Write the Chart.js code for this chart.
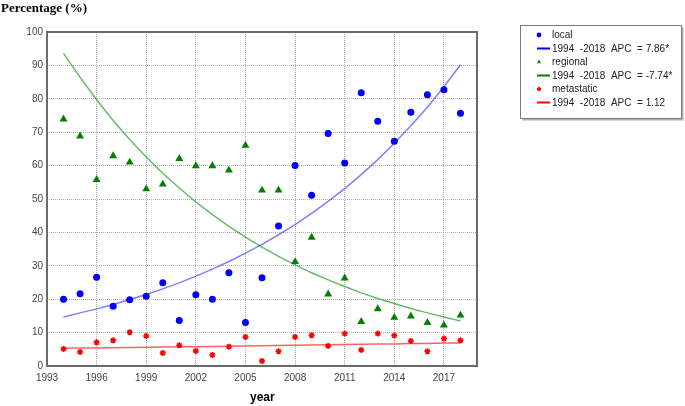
<!DOCTYPE html>
<html><head><meta charset="utf-8">
<script src="https://cdn.jsdelivr.net/npm/chart.js@4/dist/chart.umd.min.js"></script>
<style>
html,body{margin:0;padding:0;background:#fff;}
#wrap{position:relative;width:685px;height:406px;}
#yTitle{position:absolute;left:1px;top:0px;font:bold 13px "Liberation Serif",serif;color:#000;white-space:nowrap;}
#xTitle{position:absolute;left:250px;top:390px;font:bold 12px "Liberation Sans",sans-serif;color:#000;}
</style></head><body>
<div id="wrap"><canvas id="c" width="685" height="406"></canvas>
<div id="yTitle">Percentage (%)</div><div id="xTitle">year</div></div>
<script>
// ---------- data ----------
const years = [1994,1995,1996,1997,1998,1999,2000,2001,2002,2003,2004,2005,2006,2007,2008,2009,2010,2011,2012,2013,2014,2015,2016,2017,2018];
const localPct      = [20.0,21.6,26.6,17.9,19.8,20.9,24.9,13.6,21.3,20.0,27.9,13.0,26.4,41.9,60.0,51.1,69.6,60.8,81.8,73.3,67.3,76.0,81.2,82.7,75.7];
const localFit      = [14.7,15.9,17.1,18.4,19.9,21.4,23.1,24.9,26.9,29.0,31.3,33.8,36.4,39.3,42.3,45.7,49.3,53.1,57.3,61.8,66.7,71.9,77.5,83.6,90.2];
const regionalPct   = [73.9,68.8,55.8,62.9,61.0,53.0,54.4,62.1,59.9,59.9,58.6,66.0,52.6,52.6,31.2,38.5,21.5,26.3,13.3,17.1,14.5,14.9,13.0,12.2,15.2];
const regionalFit   = [93.6,86.4,79.7,73.5,67.8,62.6,57.7,53.3,49.1,45.3,41.8,38.6,35.6,32.8,30.3,27.9,25.8,23.8,21.9,20.2,18.7,17.2,15.9,14.7,13.5];
const metastaticPct = [5.1,4.2,7.1,7.7,10.1,9.0,3.9,6.2,4.5,3.3,5.8,8.7,1.5,4.4,8.7,9.2,6.0,9.7,4.8,9.7,9.1,7.5,4.4,8.2,7.7];
const metastaticFit = [5.30,5.36,5.42,5.48,5.54,5.60,5.67,5.73,5.79,5.86,5.92,5.99,6.06,6.12,6.19,6.26,6.33,6.40,6.48,6.55,6.62,6.70,6.77,6.85,6.92];
const seriesNames = ['local','regional','metastatic'];
const fitLabels   = ['1994  -2018  APC  = 7.86*','1994  -2018  APC  = -7.74*','1994  -2018  APC  = 1.12'];
const xTicks = [1993,1996,1999,2002,2005,2008,2011,2014,2017];
const yTicks = [0,10,20,30,40,50,60,70,80,90,100];

const pts = arr => years.map((yr,i)=>({x:yr,y:arr[i]}));

function pointSet(label, arr, style, color, r){
  return {label, data:pts(arr), showLine:false, pointStyle:style, pointRadius:r, pointHoverRadius:r,
    backgroundColor:color, borderColor:color, pointBorderWidth: style==='star'?1.5:0, legendColor:color, order:1};
}
function fitSet(label, arr, color, legendColor){
  return {label, data:pts(arr), showLine:true, pointRadius:0, pointHoverRadius:0, borderColor:color,
    backgroundColor:color, borderWidth:1.5, tension:0, fill:false, legendColor, isFit:true, order:2};
}

const datasets = [
  pointSet(seriesNames[0], localPct, 'circle', '#0000ff', 3.5),
  fitSet(fitLabels[0], localFit, 'rgba(40,40,255,0.6)', '#0000ff'),
  pointSet(seriesNames[1], regionalPct, 'triangle', '#008000', 4.6),
  fitSet(fitLabels[1], regionalFit, 'rgba(0,140,0,0.6)', '#008000'),
  pointSet(seriesNames[2], metastaticPct, 'star', '#ff0000', 3),
  fitSet(fitLabels[2], metastaticFit, 'rgba(255,30,30,0.7)', '#ff0000'),
];

const framePlugin = {
  id:'frameLegend',
  beforeDatasetsDraw(chart){
    const {ctx, chartArea:a} = chart;
    ctx.save();
    ctx.strokeStyle = '#6a6a6a'; ctx.lineWidth = 2;
    ctx.strokeRect(a.left, a.top, a.right-a.left, a.bottom-a.top);
    ctx.restore();
  },
  afterDraw(chart){
    const ctx = chart.ctx;
    ctx.save();
    const bx = 520.5, by = 25.5, bw = 161, bh = 93;
    ctx.fillStyle = '#b0b0b0';
    ctx.fillRect(bx+2, by+2, bw, bh);
    ctx.fillStyle = '#fff';
    ctx.fillRect(bx, by, bw, bh);
    ctx.strokeStyle = '#7a7a7a'; ctx.lineWidth = 1;
    ctx.strokeRect(bx, by, bw, bh);
    ctx.font = '10px "Liberation Sans", Arial, sans-serif';
    ctx.textBaseline = 'middle';
    chart.data.datasets.forEach((ds, i) => {
      const y = 35 + i*13.5;
      if (ds.isFit){
        ctx.strokeStyle = ds.legendColor; ctx.lineWidth = 2;
        ctx.beginPath(); ctx.moveTo(537, y); ctx.lineTo(550, y); ctx.stroke();
      } else {
        ctx.fillStyle = ds.legendColor; ctx.strokeStyle = ds.legendColor;
        Chart.helpers.drawPoint(ctx, {pointStyle: ds.pointStyle, radius: ds.pointStyle==='star'?2:2.4,
          borderWidth: ds.pointStyle==='star'?1.2:0, rotation:0}, 539, y);
      }
      ctx.fillStyle = '#222';
      ctx.fillText(ds.label, 552, y+0.5);
    });
    ctx.restore();
  }
};

new Chart(document.getElementById('c'), {
  type:'scatter',
  data:{datasets},
  options:{
    responsive:false, animation:false, devicePixelRatio:1,
    layout:{padding:{left:0, top:32, right:208, bottom:0}},
    plugins:{legend:{display:false}, tooltip:{enabled:false}},
    scales:{
      x:{type:'linear', min:1993, max:2019,
        afterBuildTicks: s => { s.ticks = xTicks.map(v=>({value:v})); },
        afterFit: s => { s.height = 40; },
        ticks:{callback:v=>String(v), color:'#444', font:{family:'"Liberation Sans", Arial, sans-serif', size:10}, padding:6, maxRotation:0, autoSkip:false},
        grid:{color:'#b0b0b0', drawTicks:false, lineWidth:1},
        border:{display:false, dash:[1,1]}
      },
      y:{type:'linear', min:0, max:100,
        afterBuildTicks: s => { s.ticks = yTicks.map(v=>({value:v})); },
        afterFit: s => { s.width = 47; },
        ticks:{color:'#444', font:{family:'"Liberation Sans", Arial, sans-serif', size:10}, padding:4},
        grid:{color:'#b0b0b0', drawTicks:false, lineWidth:1},
        border:{display:false, dash:[1,1]}
      }
    }
  },
  plugins:[framePlugin]
});
</script>
</body></html>
